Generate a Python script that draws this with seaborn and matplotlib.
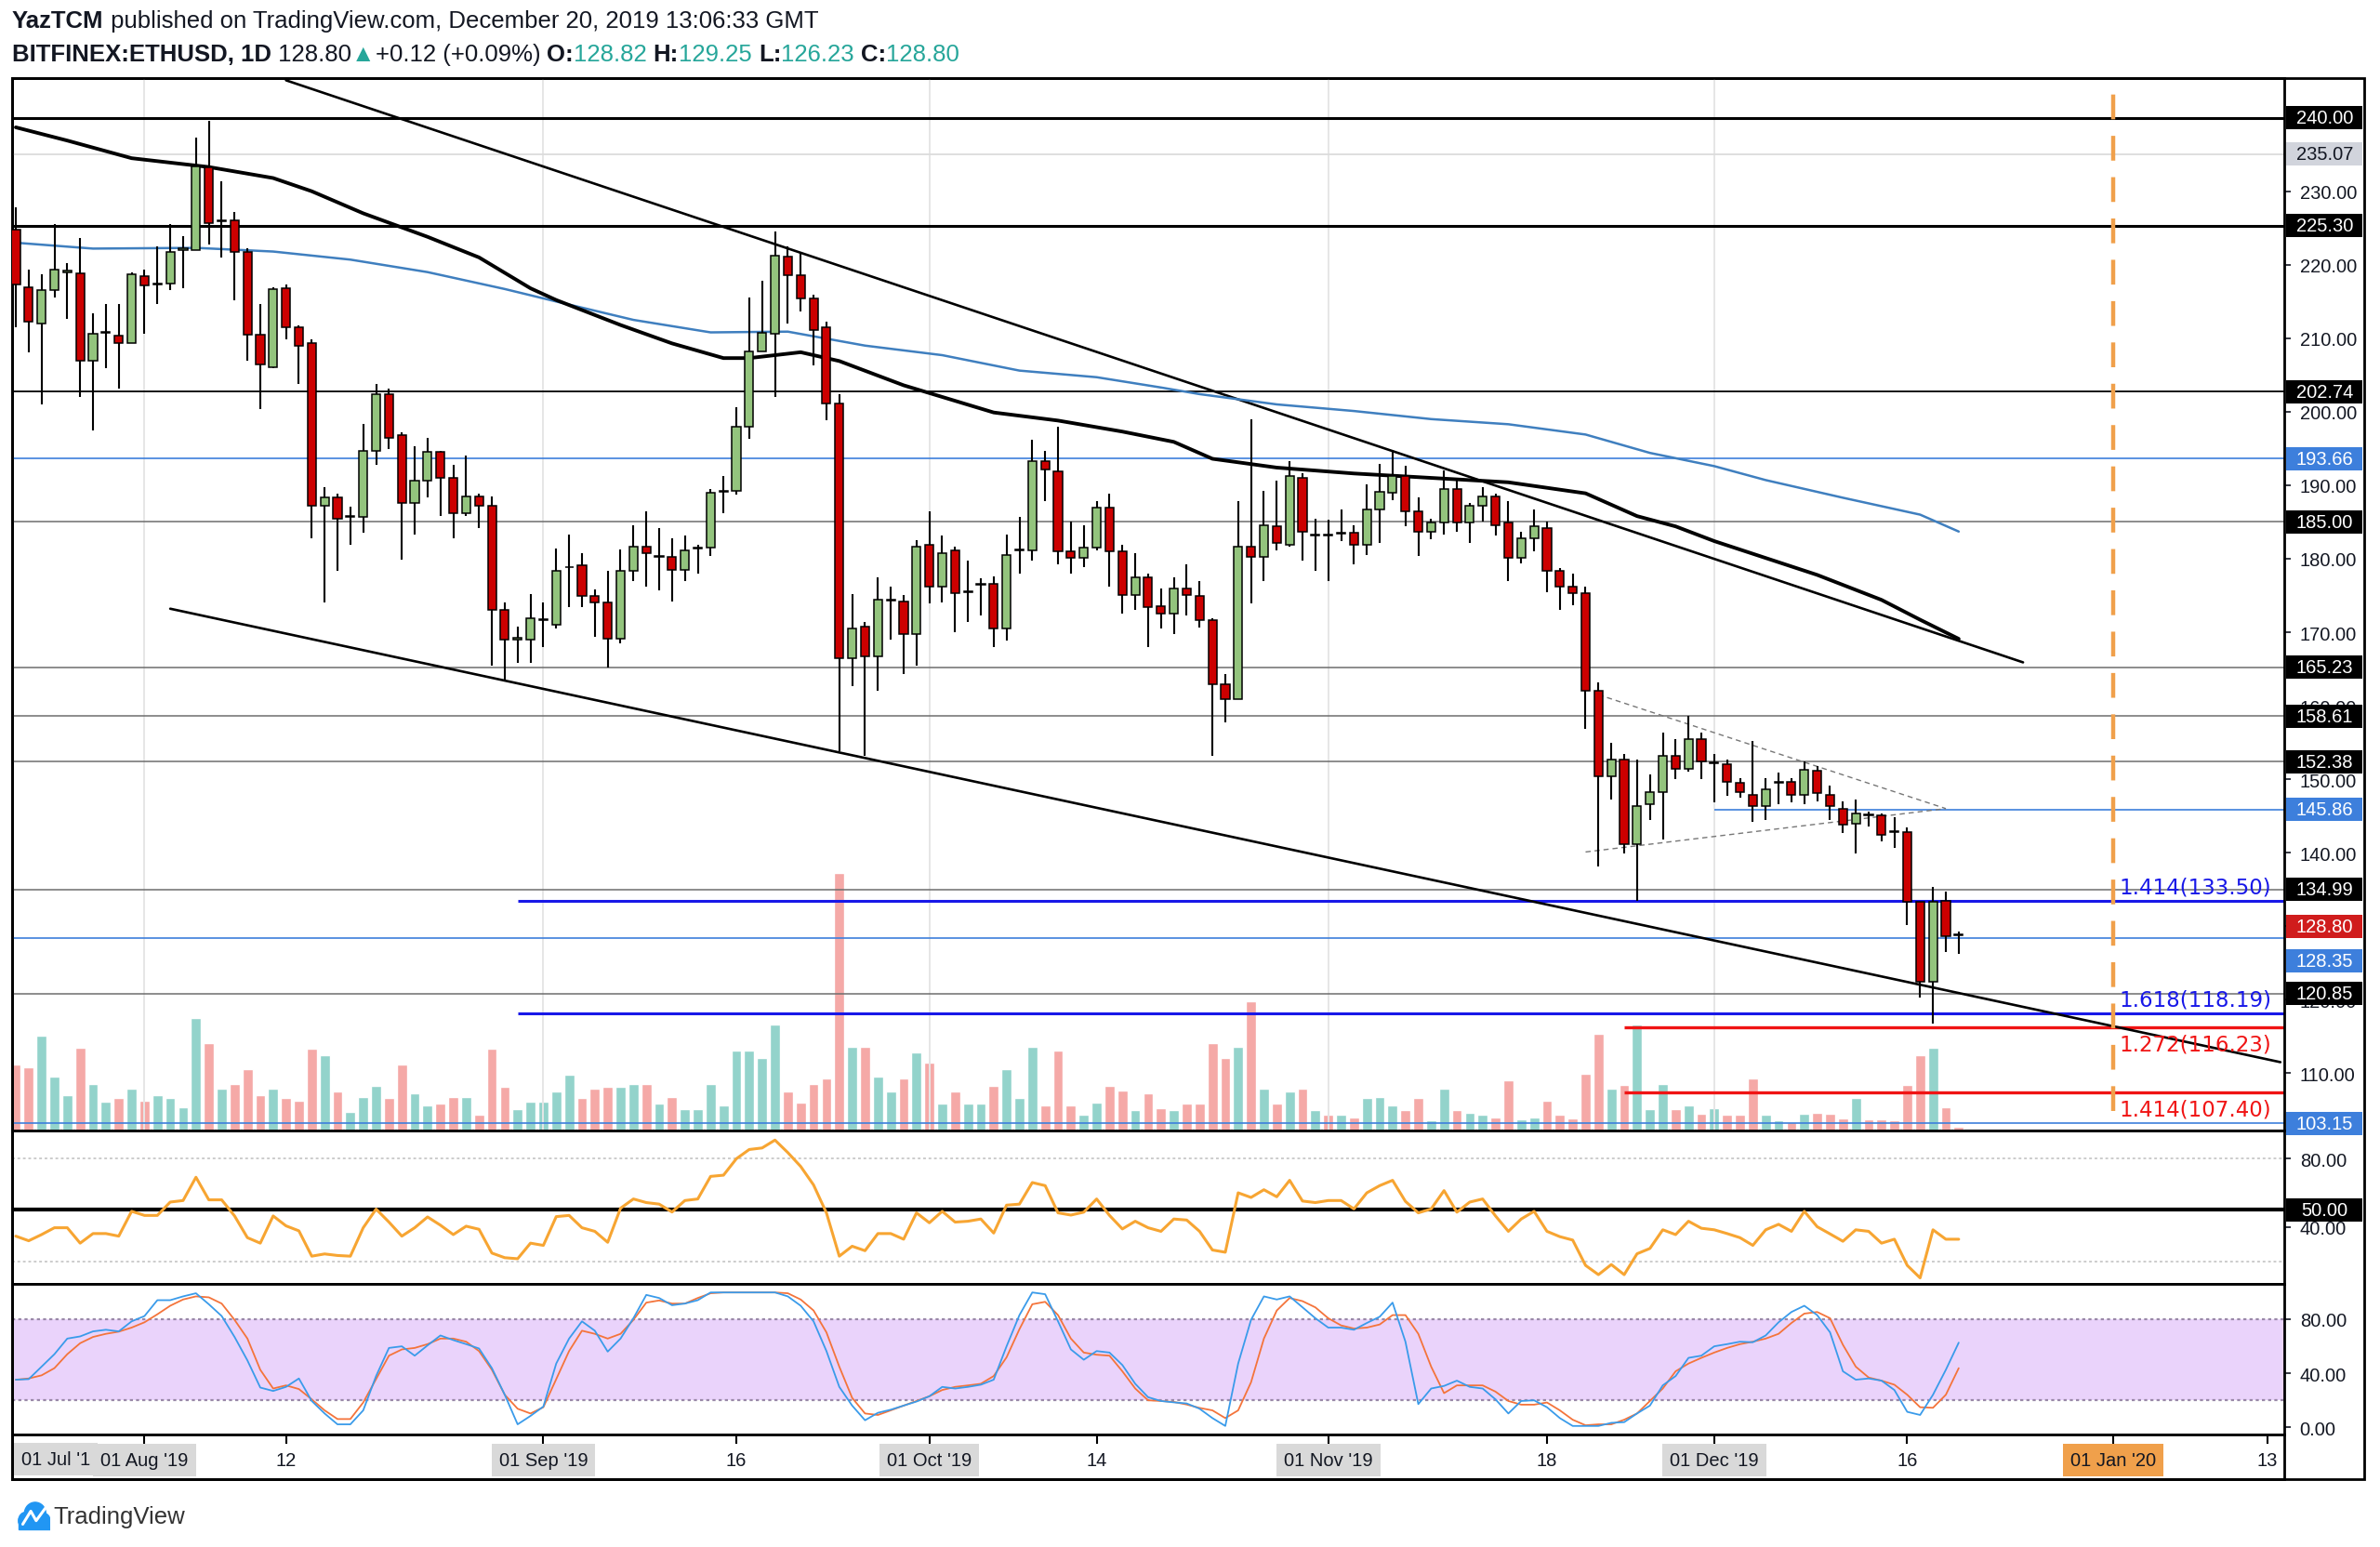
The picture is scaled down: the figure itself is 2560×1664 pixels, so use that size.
import numpy as np
import pandas as pd
import matplotlib
matplotlib.use("Agg")
import matplotlib.pyplot as plt
import matplotlib.dates as mdates
import matplotlib.transforms as mtransforms
from matplotlib.patches import Rectangle, Circle
import seaborn as sns

sns.set_style("white")
plt.rcParams["font.family"] = ["Liberation Sans", "DejaVu Sans"]

# ---------------- data ----------------
dates = pd.date_range("2019-07-22", "2019-12-20", freq="D")

opens = [224.8, 217.0, 212.0, 216.6, 218.9, 218.8, 207.0, 210.8, 210.4, 209.4,
         218.4, 217.3, 217.5, 222.0, 222.0, 233.2, 225.9, 226.0, 221.8, 210.5,
         206.1, 216.8, 211.5, 209.3, 187.2, 188.3, 185.7, 185.7, 194.7, 202.4,
         196.8, 187.6, 190.6, 194.5, 191.0, 186.2, 188.5, 187.2, 173.0, 169.0,
         169.0, 171.7, 171.0, 178.8, 179.1, 174.9, 174.0, 169.1, 178.3, 181.6,
         180.3, 180.3, 178.5, 181.4, 181.5, 189.1, 189.2, 198.0, 208.2, 210.6,
         221.1, 218.6, 215.4, 211.5, 201.1, 166.4, 170.8, 166.7, 174.3, 174.2,
         169.8, 181.9, 176.2, 181.2, 175.5, 176.4, 176.6, 170.5, 181.1, 181.2,
         193.3, 191.9, 181.0, 180.1, 181.5, 186.9, 181.0, 175.1, 177.5, 173.5,
         172.5, 176.0, 174.9, 171.7, 162.9, 160.9, 181.6, 180.3, 184.4, 181.9,
         191.0, 183.2, 183.3, 183.4, 183.5, 181.9, 186.7, 189.0, 191.3, 186.5,
         183.7, 184.9, 189.5, 184.9, 187.2, 188.5, 184.9, 180.1, 182.8, 184.2,
         178.4, 176.2, 175.3, 162.0, 150.4, 152.7, 141.1, 146.6, 148.2, 153.2,
         151.4, 155.4, 152.2, 152.0, 149.5, 147.9, 146.3, 149.5, 149.7, 147.9,
         151.2, 147.9, 146.0, 144.0, 145.2, 145.1, 142.9, 142.8, 133.3, 122.5,
         133.5, 128.82]
highs = [227.8, 219.3, 218.7, 225.5, 220.2, 223.6, 213.4, 214.7, 214.7, 219.0,
         219.3, 222.5, 225.5, 223.9, 237.3, 239.6, 231.3, 227.2, 222.3, 214.7,
         217.0, 217.3, 211.7, 209.9, 189.7, 188.8, 187.1, 198.3, 203.8, 203.1,
         197.2, 195.3, 196.5, 194.7, 192.8, 194.0, 188.9, 188.5, 174.0, 170.8,
         175.2, 174.0, 181.4, 183.3, 180.7, 175.8, 178.3, 181.3, 184.6, 186.5,
         184.2, 182.8, 183.1, 181.9, 189.5, 191.3, 200.6, 215.6, 217.8, 224.5,
         222.5, 221.8, 215.9, 212.2, 202.4, 175.2, 171.4, 177.5, 176.2, 175.1,
         182.5, 186.5, 183.1, 181.6, 179.8, 177.3, 177.6, 183.3, 185.7, 196.2,
         194.7, 197.9, 185.1, 184.5, 187.8, 188.9, 181.9, 180.7, 178.0, 176.0,
         177.5, 179.2, 176.9, 171.9, 164.3, 187.8, 199.0, 189.2, 190.6, 193.3,
         191.7, 185.5, 185.3, 186.7, 184.6, 190.1, 192.9, 194.8, 192.6, 188.3,
         185.5, 192.0, 190.6, 187.6, 189.8, 188.9, 187.8, 183.7, 186.7, 185.1,
         178.7, 178.0, 176.2, 163.2, 155.0, 153.4, 152.7, 150.6, 156.4, 155.4,
         158.6, 156.4, 153.4, 152.7, 150.2, 155.2, 150.2, 150.9, 150.2, 152.4,
         151.8, 149.1, 147.0, 147.2, 145.6, 145.4, 144.8, 143.4, 133.3, 135.3,
         134.7, 129.25]
lows = [211.5, 208.1, 201.0, 215.6, 212.6, 202.0, 197.4, 205.9, 203.2, 209.4,
        210.6, 214.7, 216.6, 216.8, 222.0, 222.7, 221.0, 215.2, 207.0, 200.4,
        205.9, 209.9, 203.8, 182.8, 174.0, 178.4, 181.9, 183.5, 192.8, 194.9,
        179.9, 183.3, 188.3, 185.8, 182.8, 185.8, 184.2, 165.5, 163.6, 165.8,
        165.8, 168.0, 170.5, 173.4, 173.4, 169.4, 165.2, 168.5, 176.9, 176.2,
        175.7, 174.2, 176.9, 178.0, 180.4, 186.2, 188.7, 196.3, 208.2, 202.0,
        212.0, 213.6, 206.3, 198.8, 153.8, 162.7, 153.2, 162.0, 169.0, 164.3,
        165.5, 173.9, 174.1, 170.0, 171.4, 172.3, 168.0, 168.9, 178.0, 179.8,
        187.8, 179.2, 178.0, 178.9, 181.2, 176.2, 172.5, 173.0, 168.0, 170.5,
        169.8, 172.3, 170.7, 153.2, 157.7, 160.9, 173.9, 176.9, 181.2, 181.6,
        179.8, 178.3, 176.9, 182.4, 179.2, 180.5, 182.2, 188.0, 184.4, 180.4,
        182.6, 183.3, 183.7, 182.2, 185.1, 183.1, 176.9, 179.4, 181.0, 175.5,
        173.0, 173.7, 156.8, 138.1, 147.2, 139.9, 133.5, 144.5, 141.8, 150.0,
        151.0, 150.0, 146.8, 147.7, 147.5, 144.2, 144.5, 146.6, 146.8, 146.6,
        147.0, 144.5, 142.7, 139.9, 143.6, 141.5, 140.6, 130.2, 120.3, 116.7,
        126.5, 126.23]
closes = [217.3, 212.3, 216.6, 219.3, 219.2, 207.0, 210.6, 210.9, 209.4, 218.7,
          217.2, 217.4, 221.8, 222.2, 233.4, 225.7, 226.0, 221.8, 210.5, 206.4,
          216.7, 211.5, 209.0, 187.2, 188.3, 185.4, 185.8, 194.7, 202.4, 196.5,
          187.6, 190.6, 194.5, 191.0, 186.2, 188.5, 187.2, 173.0, 169.0, 169.2,
          171.9, 171.8, 178.4, 178.9, 174.9, 174.0, 169.1, 178.3, 181.6, 180.7,
          180.4, 178.5, 181.2, 181.5, 189.0, 189.2, 198.0, 208.2, 210.8, 221.3,
          218.6, 215.4, 211.1, 201.1, 166.4, 170.5, 166.7, 174.4, 174.4, 169.8,
          181.6, 176.2, 180.8, 175.3, 175.6, 176.5, 170.5, 180.5, 181.2, 193.3,
          192.1, 181.0, 180.1, 181.5, 186.9, 181.0, 175.1, 177.5, 173.4, 172.5,
          176.0, 175.1, 171.7, 162.9, 160.9, 181.6, 180.3, 184.5, 182.2, 191.2,
          183.7, 183.3, 183.2, 183.5, 181.9, 186.7, 189.1, 191.2, 186.5, 183.7,
          184.9, 189.5, 184.9, 187.2, 188.5, 184.6, 180.1, 182.8, 184.4, 178.4,
          176.2, 175.3, 162.0, 150.4, 152.7, 141.1, 146.3, 148.2, 153.2, 151.4,
          155.4, 152.4, 152.3, 149.7, 148.3, 146.3, 148.6, 149.5, 147.9, 151.3,
          148.1, 146.3, 143.8, 145.4, 145.1, 142.4, 142.8, 133.3, 122.5, 133.3,
          128.68, 128.80]
volume_k = [98, 95, 142, 80, 53, 123, 70, 43, 48, 62,
            45, 53, 48, 35, 168, 130, 62, 70, 92, 53,
            62, 48, 45, 122, 112, 58, 28, 50, 67, 48,
            98, 55, 37, 40, 50, 50, 23, 122, 65, 32,
            43, 43, 58, 83, 48, 62, 65, 65, 70, 70,
            40, 50, 32, 32, 70, 38, 120, 120, 108, 158,
            58, 42, 70, 78, 385, 125, 125, 80, 58, 78,
            117, 102, 40, 58, 40, 40, 67, 92, 48, 125,
            38, 120, 37, 23, 42, 67, 60, 30, 55, 33,
            30, 40, 40, 130, 108, 125, 193, 62, 40, 58,
            62, 30, 23, 23, 20, 48, 50, 38, 30, 48,
            15, 62, 30, 27, 23, 20, 75, 17, 20, 45,
            23, 18, 85, 145, 62, 68, 158, 32, 70, 32,
            37, 25, 33, 23, 23, 78, 23, 15, 13, 25,
            27, 25, 18, 48, 17, 17, 15, 68, 112, 123,
            35, 5]
rsi = [34.6, 31.9, 35.5, 39.5, 39.5, 30.5, 36.1, 36.1, 34.6, 49.1,
       46.7, 46.7, 54.5, 55.4, 69.0, 55.8, 55.8, 46.4, 33.7, 30.5,
       46.4, 40.6, 37.7, 22.9, 24.2, 23.3, 22.9, 39.5, 50.4, 42.8,
       34.6, 39.5, 45.8, 41.0, 35.5, 40.4, 38.6, 24.7, 22.0, 21.4,
       30.5, 29.2, 46.0, 46.7, 39.5, 37.4, 31.0, 50.9, 56.3, 54.2,
       53.3, 48.7, 55.4, 56.3, 69.5, 70.2, 79.8, 85.2, 86.1, 90.7,
       83.4, 75.3, 64.5, 48.2, 22.9, 28.7, 26.1, 36.1, 36.1, 32.8,
       48.2, 42.4, 49.1, 42.8, 43.3, 44.6, 36.4, 52.7, 53.3, 65.9,
       64.1, 48.2, 46.9, 48.6, 56.3, 46.7, 38.8, 43.3, 39.5, 37.4,
       44.6, 44.0, 37.4, 26.5, 25.2, 59.9, 57.2, 61.7, 57.6, 67.2,
       55.1, 54.2, 55.4, 55.4, 50.5, 59.9, 64.1, 67.2, 54.9, 48.2,
       50.5, 61.2, 48.6, 54.5, 56.3, 46.4, 37.4, 44.6, 49.1, 37.4,
       34.3, 32.3, 17.5, 12.1, 18.0, 12.1, 24.3, 27.4, 38.3, 35.5,
       43.3, 39.2, 38.3, 36.1, 33.7, 29.2, 38.3, 41.5, 37.4, 49.1,
       40.1, 35.9, 31.6, 38.3, 37.4, 30.5, 32.8, 17.5, 10.2, 38.3,
       32.8, 32.8]
stoch_k = [35.2, 35.6, 44.8, 54.0, 65.5, 67.1, 70.8, 72.0, 70.8, 78.2,
           82.1, 93.8, 93.8, 96.6, 98.9, 90.8, 82.1, 66.7, 49.4, 29.4,
           26.9, 29.9, 36.1, 19.5, 10.3, 2.3, 2.3, 12.6, 37.9, 58.6,
           59.8, 52.9, 60.5, 67.8, 64.4, 61.4, 58.2, 43.7, 24.1, 2.3,
           8.5, 15.4, 47.1, 65.5, 78.2, 71.3, 55.9, 65.5, 80.5, 97.7,
           95.4, 90.1, 91.3, 93.8, 99.5, 99.5, 99.5, 99.5, 99.5, 99.5,
           96.6, 89.7, 78.2, 56.3, 29.9, 16.1, 5.3, 10.8, 13.1, 16.1,
           19.1, 23.0, 29.9, 28.7, 29.9, 31.5, 35.2, 59.8, 82.8, 99.5,
           98.2, 78.2, 57.5, 49.9, 56.3, 55.2, 46.0, 32.2, 22.3, 19.5,
           18.5, 17.7, 13.8, 6.9, 1.1, 47.1, 79.3, 96.6, 94.3, 96.6,
           88.5, 80.5, 73.6, 73.6, 72.0, 77.0, 81.6, 92.0, 63.2, 17.2,
           28.7, 30.6, 34.5, 29.9, 28.7, 20.7, 10.3, 19.5, 20.0, 14.9,
           6.9, 1.1, 1.1, 1.1, 3.4, 3.9, 10.3, 16.1, 31.0, 37.9,
           51.3, 52.9, 59.8, 61.4, 63.2, 62.8, 67.8, 77.5, 85.1, 89.7,
           82.8, 70.1, 41.4, 35.2, 36.1, 34.5, 27.6, 11.5, 9.2, 24.1,
           42.5, 62.5]
stoch_d = [35.2, 36.1, 38.4, 43.7, 54.0, 62.1, 66.7, 69.0, 70.6, 73.6,
           77.5, 83.4, 89.7, 94.3, 96.6, 95.9, 91.3, 79.3, 65.5, 42.5,
           28.7, 31.0, 28.3, 20.7, 12.6, 6.2, 6.2, 18.4, 35.6, 52.9,
           57.5, 58.6, 61.4, 65.5, 65.5, 63.2, 56.3, 42.5, 24.1, 13.8,
           10.3, 14.9, 35.6, 56.3, 71.3, 69.0, 65.5, 69.0, 79.3, 92.0,
           93.6, 91.3, 91.3, 95.4, 98.9, 99.5, 99.5, 99.5, 99.5, 99.5,
           98.9, 94.3, 86.2, 70.1, 44.8, 21.8, 10.3, 9.2, 12.6, 16.1,
           19.5, 23.0, 27.6, 29.9, 31.0, 32.2, 37.9, 51.7, 72.4, 90.8,
           92.6, 82.8, 65.5, 55.2, 53.6, 52.9, 41.4, 28.7, 20.0, 19.5,
           18.8, 16.9, 14.4, 12.6, 6.9, 12.6, 33.3, 65.5, 86.2, 95.4,
           93.1, 88.5, 80.5, 75.2, 72.9, 73.6, 75.9, 82.8, 82.8, 69.0,
           44.8, 25.3, 31.0, 31.0, 31.0, 26.4, 19.5, 16.8, 16.8, 18.4,
           12.6, 5.7, 1.6, 2.3, 2.3, 5.7, 10.3, 19.5, 28.7, 41.4,
           47.1, 51.3, 55.2, 58.6, 61.4, 63.2, 65.5, 69.0, 77.0, 83.9,
           85.1, 80.5, 60.9, 44.8, 36.8, 34.5, 31.5, 24.1, 14.9, 14.5,
           24.1, 43.7]

ma100_dates = ["2019-07-22", "2019-07-26", "2019-07-31", "2019-08-06", "2019-08-11", "2019-08-14",
               "2019-08-18", "2019-08-23", "2019-08-27", "2019-08-31", "2019-09-02", "2019-09-07",
               "2019-09-11", "2019-09-15", "2019-09-17", "2019-09-21", "2019-09-24", "2019-09-29",
               "2019-10-06", "2019-10-11", "2019-10-16", "2019-10-20", "2019-10-23", "2019-10-28",
               "2019-11-03", "2019-11-09", "2019-11-15", "2019-11-21", "2019-11-25", "2019-11-28",
               "2019-12-01", "2019-12-05", "2019-12-09", "2019-12-14", "2019-12-17", "2019-12-20"]
ma100 = [238.7, 236.9, 234.5, 233.3, 231.8, 230.0, 227.0, 223.8, 221.0, 216.8, 215.2, 211.8,
         209.3, 207.3, 207.3, 208.1, 206.9, 203.6, 199.9, 198.8, 197.3, 195.9, 193.6, 192.4,
         191.6, 191.0, 190.4, 188.9, 185.8, 184.4, 182.4, 180.1, 177.8, 174.4, 171.7, 169.1]
ma200_dates = ["2019-07-22", "2019-07-28", "2019-08-05", "2019-08-11", "2019-08-17", "2019-08-23",
               "2019-08-29", "2019-09-02", "2019-09-08", "2019-09-14", "2019-09-20", "2019-09-26",
               "2019-10-02", "2019-10-08", "2019-10-14", "2019-10-19", "2019-10-22", "2019-10-28",
               "2019-11-03", "2019-11-09", "2019-11-15", "2019-11-21", "2019-11-26", "2019-12-01",
               "2019-12-05", "2019-12-11", "2019-12-17", "2019-12-20"]
ma200 = [223.0, 222.2, 222.3, 221.8, 220.7, 219.0, 216.7, 215.0, 212.5, 210.8, 210.9, 209.0,
         207.7, 205.6, 204.7, 203.3, 202.4, 201.0, 200.1, 199.0, 198.3, 196.9, 194.4, 192.6,
         190.7, 188.3, 186.0, 183.7]

# drawn levels and trend lines
black_thick_levels = [240.00, 225.30]
black_levels = [202.74]
faint_levels = [235.07]
gray_levels = [185.00, 165.23, 158.61, 152.38, 134.99, 120.85]
blue_levels = [193.66, 128.35, 103.15]
blue_level_from = {145.86: "2019-12-01"}
fib_blue = [133.50, 118.19]
fib_blue_ratio = ["1.414", "1.618"]
fib_blue_from = "2019-08-30"
fib_red = [116.23, 107.40]
fib_red_ratio = ["1.272", "1.414"]
fib_red_from = "2019-11-24"
channel_top = (["2019-08-12", "2019-12-25"], [245.1, 165.9])
channel_bottom = (["2019-08-03", "2020-01-14"], [173.2, 111.5])
triangle_top = (["2019-11-22", "2019-12-19"], [161.5, 146.0])
triangle_bottom = (["2019-11-21", "2019-12-19"], [140.1, 146.0])
marker_date = "2020-01-01"

xtick_dates = ["2019-08-01", "2019-08-12", "2019-09-01", "2019-09-16", "2019-10-01", "2019-10-14",
               "2019-11-01", "2019-11-18", "2019-12-01", "2019-12-16", "2020-01-01", "2020-01-13"]
xtick_labels = ["01 Aug '19", "12", "01 Sep '19", "16", "01 Oct '19", "14",
                "01 Nov '19", "18", "01 Dec '19", "16", "01 Jan '20", "13"]

# ---------------- figure ----------------
W, H = 2560, 1665
fig = plt.figure(figsize=(W / 100, H / 100), dpi=100)
fig.patch.set_facecolor("white")
LBL = 14.5


def box(x0, y0, x1, y1):
    return [x0 / W, 1 - y1 / H, (x1 - x0) / W, (y1 - y0) / H]


ax = fig.add_axes(box(13, 85, 2457, 1217))
ax_rsi = fig.add_axes(box(13, 1217, 2457, 1382))
ax_st = fig.add_axes(box(13, 1382, 2457, 1544))
ax_x = fig.add_axes(box(13, 1544, 2457, 1592))

dn = lambda s: mdates.date2num(pd.to_datetime(s))
x = mdates.date2num(dates)
o, hi, lo, c = map(np.array, (opens, highs, lows, closes))
up = c >= o
aug1 = dn("2019-08-01")
xmin, xmax = aug1 - 10.29, aug1 + 166.3

# volume underlay
axv = ax.twinx()
axv.bar(x, volume_k, width=0.78, color=np.where(up, "#93d3cb", "#f5a9a7"), zorder=1)
axv.set_ylim(0, 1571)
axv.axis("off")
ax.set_zorder(axv.get_zorder() + 1)
ax.patch.set_visible(False)

# month grid
for d, t in zip(xtick_dates, xtick_labels):
    if t.startswith("01") and not t.endswith("'20"):
        ax.axvline(dn(d), color="#e6e6e6", lw=1.4, zorder=1)

# levels
for y in black_thick_levels:
    ax.axhline(y, color="black", lw=2.2, zorder=2)
for y in black_levels:
    ax.axhline(y, color="black", lw=1.3, zorder=2)
for y in faint_levels:
    ax.axhline(y, color="#dcdcdc", lw=1.3, zorder=2)
for y in gray_levels:
    ax.axhline(y, color="#6d6d6d", lw=1.1, zorder=2)
for y in blue_levels:
    ax.axhline(y, color="#3d7fdc", lw=1.2, zorder=2)
for y, d in blue_level_from.items():
    ax.hlines(y, dn(d), xmax, color="#3d7fdc", lw=1.2, zorder=2)
for y, r in zip(fib_blue, fib_blue_ratio):
    ax.hlines(y, dn(fib_blue_from), xmax, color="#1818e8", lw=2.2, zorder=2)
    ax.text(xmax - 1.0, y + 0.35, f"{r}({y:.2f})", color="#1818e8", ha="right", va="bottom",
            fontsize=16.5, family="DejaVu Sans", zorder=7)
for y, r in zip(fib_red, fib_red_ratio):
    ax.hlines(y, dn(fib_red_from), xmax, color="#f01414", lw=2.4, zorder=2)
    ax.text(xmax - 1.0, y - 0.8, f"{r}({y:.2f})", color="#f01414", ha="right", va="top",
            fontsize=16.5, family="DejaVu Sans", zorder=7)

# trend lines
for dts, vals in (channel_top, channel_bottom):
    ax.plot(dn(dts), vals, color="black", lw=1.9, zorder=3)
for dts, vals in (triangle_top, triangle_bottom):
    ax.plot(dn(dts), vals, color="#777777", lw=1.0, ls=(0, (4, 3)), zorder=3)

# moving averages
sns.lineplot(x=dn(ma200_dates), y=ma200, ax=ax, color="#3f7fbf", linewidth=1.8, zorder=4)
sns.lineplot(x=dn(ma100_dates), y=ma100, ax=ax, color="black", linewidth=2.8, zorder=4)

# candles
ax.vlines(x, lo, hi, color="black", lw=1.5, zorder=5)
ax.bar(x, np.maximum(np.abs(c - o), 0.12), bottom=np.minimum(o, c), width=0.66,
       color=np.where(up, "#93c47d", "#cc0000"), edgecolor="black", linewidth=1.1, zorder=6)

# new-year marker
ax.vlines(dn(marker_date), 104.8, 246, colors="#f0a04b", lw=3.2, linestyles=(0, (6, 4)), zorder=3)

ax.set_xlim(xmin, xmax)
ax.set_ylim(102.2, 245.4)
ax.set_xticks([])
ax.yaxis.tick_right()
yt = np.arange(110, 240, 10)
ax.set_yticks(yt)
ax.set_yticklabels([f"{v:.2f}" for v in yt])
ax.set_xlabel("")
ax.set_ylabel("")


def tag(a, y, text, fc, tc="white", px=25):
    y0, y1 = a.get_ylim()
    hgt = px * (y1 - y0) / (a.get_position().height * H)
    tr = mtransforms.blended_transform_factory(a.transAxes, a.transData)
    a.add_patch(Rectangle((1.0008, y - hgt / 2), 0.0336, hgt, transform=tr, fc=fc, ec="none",
                          clip_on=False, zorder=8))
    a.text(1.0178, y, text, transform=tr, ha="center", va="center", color=tc, fontsize=LBL,
           clip_on=False, zorder=9)


for y in black_thick_levels + black_levels + gray_levels:
    tag(ax, y, f"{y:.2f}", "black")
for y in faint_levels:
    tag(ax, y, f"{y:.2f}", "#d1d4dc", "#131722")
tag(ax, 193.66, "193.66", "#3d7fdc")
tag(ax, 145.86, "145.86", "#3d7fdc")
tag(ax, 103.15, "103.15", "#3d7fdc")
tag(ax, 125.3, "128.35", "#3d7fdc")
tag(ax, 130.0, f"{closes[-1]:.2f}", "#d01c1c")

# RSI pane
for v in (80, 20):
    ax_rsi.axhline(v, color="#cccccc", lw=1.4, ls=(0, (1.5, 1.5)))
ax_rsi.axhline(50, color="black", lw=3.0)
sns.lineplot(x=x, y=rsi, ax=ax_rsi, color="#f7a532", linewidth=2.2, zorder=4)
ax_rsi.set_ylim(6.7, 96.3)
ax_rsi.set_xlim(xmin, xmax)
ax_rsi.set_xticks([])
ax_rsi.yaxis.tick_right()
ax_rsi.set_yticks([40, 80])
ax_rsi.set_yticklabels(["40.00", "80.00"])
ax_rsi.set_xlabel("")
ax_rsi.set_ylabel("")
tag(ax_rsi, 50, "50.00", "black")

# Stoch RSI pane
ax_st.axhspan(20, 80, color="#ead3fb", lw=0, zorder=0)
for v in (80, 20):
    ax_st.axhline(v, color="#9a89a8", lw=1.6, ls=(0, (1.5, 1.5)), zorder=1)
sns.lineplot(x=x, y=stoch_d, ax=ax_st, color="#f4743b", linewidth=1.3, zorder=3)
sns.lineplot(x=x, y=stoch_k, ax=ax_st, color="#3a9bea", linewidth=1.3, zorder=4)
ax_st.set_ylim(-5.2, 105.8)
ax_st.set_xlim(xmin, xmax)
ax_st.set_xticks([])
ax_st.yaxis.tick_right()
ax_st.set_yticks([0, 40, 80])
ax_st.set_yticklabels(["0.00", "40.00", "80.00"])
ax_st.set_xlabel("")
ax_st.set_ylabel("")

for a in (ax, ax_rsi, ax_st):
    a.tick_params(axis="y", length=5, width=1.2, pad=7, labelsize=LBL, colors="#131722")

# date strip
ax_x.set_xlim(xmin, xmax)
ax_x.set_ylim(0, 1)
ax_x.set_xticks([])
ax_x.set_yticks([])
ax_x.text(0.004, 0.45, "01 Jul '1", transform=ax_x.transAxes, ha="left", va="center", fontsize=LBL,
          color="#131722", bbox=dict(boxstyle="square,pad=0.4", fc="#d9d9d9", ec="none"), zorder=2)
for d, t in zip(xtick_dates, xtick_labels):
    xd = dn(d)
    ax_x.vlines(xd, 0.8, 1.0, color="black", lw=1.5)
    if t.endswith("'20"):
        bb = dict(boxstyle="square,pad=0.4", fc="#f0a04b", ec="none")
    elif t.startswith("01"):
        bb = dict(boxstyle="square,pad=0.4", fc="#d9d9d9", ec="none")
    else:
        bb = None
    ax_x.text(xd, 0.42, t, ha="center", va="center", fontsize=LBL, color="#131722", bbox=bb, zorder=3)

for a in (ax, ax_rsi, ax_st, ax_x):
    for s in a.spines.values():
        s.set_color("black")
        s.set_linewidth(2.0)

fig.add_artist(Rectangle((13 / W, 1 - 1592 / H), (2543 - 13) / W, (1592 - 85) / H,
                         transform=fig.transFigure, fill=False, ec="black", lw=2.0))

# header
dark, teal = "#131722", "#26a69a"
chg = closes[-1] - closes[-2]
line1 = [("YazTCM", dark, "bold"),
         (" published on TradingView.com, December 20, 2019 13:06:33 GMT", dark, "normal")]
line2 = [("BITFINEX:ETHUSD, 1D", dark, "bold"), (f" {closes[-1]:.2f}", dark, "normal"),
         ("▲", teal, "normal"), (f"{chg:+.2f} ({chg / closes[-2] * 100:+.2f}%) ", dark, "normal"),
         ("O:", dark, "bold"), (f"{opens[-1]:.2f} ", teal, "normal"),
         ("H:", dark, "bold"), (f"{highs[-1]:.2f} ", teal, "normal"),
         ("L:", dark, "bold"), (f"{lows[-1]:.2f} ", teal, "normal"),
         ("C:", dark, "bold"), (f"{closes[-1]:.2f}", teal, "normal")]


def header(parts, ybase):
    prev = None
    for s, col, wt in parts:
        if prev is None:
            prev = fig.text(13 / W, 1 - ybase / H, s, color=col, fontweight=wt, fontsize=18.5,
                            ha="left", va="baseline")
        else:
            prev = ax.annotate(s, xy=(1, 0), xycoords=prev, ha="left", va="bottom", color=col,
                               fontweight=wt, fontsize=18.5, annotation_clip=False)


header(line1, 30)
header(line2, 66)

# TradingView logo
ax_logo = fig.add_axes(box(18, 1612, 54, 1650))
ax_logo.set_xlim(0, 1)
ax_logo.set_ylim(0, 1)
ax_logo.axis("off")
for cx, cy, r in ((0.3, 0.35, 0.25), (0.55, 0.55, 0.32), (0.78, 0.35, 0.22)):
    ax_logo.add_patch(Circle((cx, cy), r, color="#2196f3"))
ax_logo.add_patch(Rectangle((0.05, 0.1), 0.95, 0.3, color="#2196f3"))
ax_logo.plot([0.18, 0.42, 0.58, 0.85], [0.25, 0.62, 0.35, 0.7], color="white", lw=2.2)
fig.text(57 / W, 1 - 1632 / H, "TradingView", fontsize=18.5, color="#333333", ha="left", va="center")

fig.savefig("out.png", dpi=100, facecolor="white")
